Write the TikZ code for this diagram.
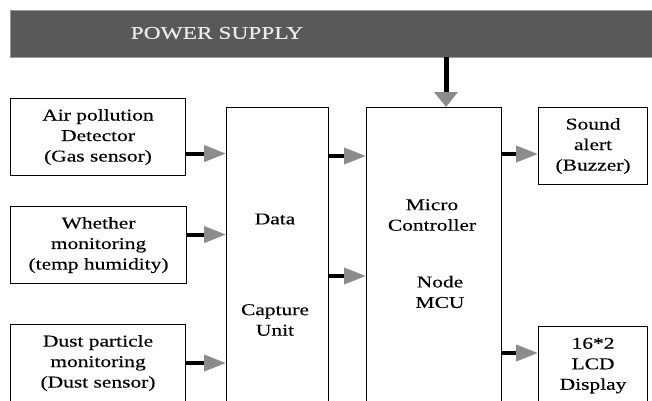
\documentclass[tikz,border=0pt]{standalone}
\usepackage{fontspec}
\setmainfont{Liberation Serif}[FakeStretch=1.3, FakeBold=0.3]
\usetikzlibrary{arrows.meta, positioning, calc}

\begin{document}
\begin{tikzpicture}[
    x=1pt, y=1pt,
    bar/.style={fill=black!65, draw=black!40, anchor=north west, minimum width=660pt, minimum height=47pt},
    box/.style={draw, line width=1.1pt, anchor=north west, align=center, font=\fontsize{16.5}{20.5}\selectfont, inner sep=2pt},
    lbl/.style={align=center, font=\fontsize{16.5}{20.5}\selectfont},
    sig/.style={line width=4pt, -{Triangle[length=22pt, width=16pt, color=black!45]}},
    pwr/.style={line width=5pt, -{Triangle[length=15pt, width=23pt, color=black!45]}}
]
\useasboundingbox (0,0) rectangle (652,400);
\node[bar] (power) at (10,390) {};
\node[font=\fontsize{18}{20}\selectfont, text=white!92!black] (powtxt) at (217,367) {POWER SUPPLY};

\node[box, minimum width=175pt, minimum height=77pt] (air) at (10,302) {Air pollution\\Detector\\(Gas sensor)};
\node[box, minimum width=176pt, minimum height=77pt] (wea) at (10,194) {Whether\\monitoring\\(temp humidity)};
\node[box, minimum width=175pt, minimum height=77pt] (dust) at (10,76) {Dust particle\\monitoring\\(Dust sensor)};
\node[box, minimum width=102pt, minimum height=320pt] (dcu) at (226,293) {};
\node[box, minimum width=135pt, minimum height=320pt] (mcu) at (366,293) {};
\node[box, minimum width=109pt, minimum height=77pt] (buzz) at (538,293) {Sound\\alert\\(Buzzer)};
\node[box, minimum width=109pt, minimum height=78pt] (lcd) at (538,74) {16*2\\LCD\\Display};

\node[lbl] (data) at (275,181) {Data};
\node[lbl] (capt) at (275,80) {Capture\\Unit};
\node[lbl] (micro) at (432,185) {Micro\\Controller};
\node[lbl] (node) at (440,108) {Node\\MCU};

\coordinate (a1) at ([yshift=-16.5pt]air.east);
\coordinate (a2) at ([yshift=10.5pt]wea.east);
\coordinate (a3) at ([yshift=0pt]dust.east);
\coordinate (b1) at (dcu.east |- 0,244);
\coordinate (b2) at (dcu.east |- 0,124);
\coordinate (c1) at (mcu.east |- 0,246);
\coordinate (c2) at (mcu.east |- 0,47);

\draw[sig] (a1) -- (a1 -| dcu.west);
\draw[sig] (a2) -- (a2 -| dcu.west);
\draw[sig] (a3) -- (a3 -| dcu.west);
\draw[sig] (b1) -- (b1 -| mcu.west);
\draw[sig] (b2) -- (b2 -| mcu.west);
\draw[sig] (c1) -- (c1 -| buzz.west);
\draw[sig] (c2) -- (c2 -| lcd.west);
\draw[pwr] (power.south -| 446,0) -- (mcu.north -| 446,0);
\end{tikzpicture}
\end{document}
